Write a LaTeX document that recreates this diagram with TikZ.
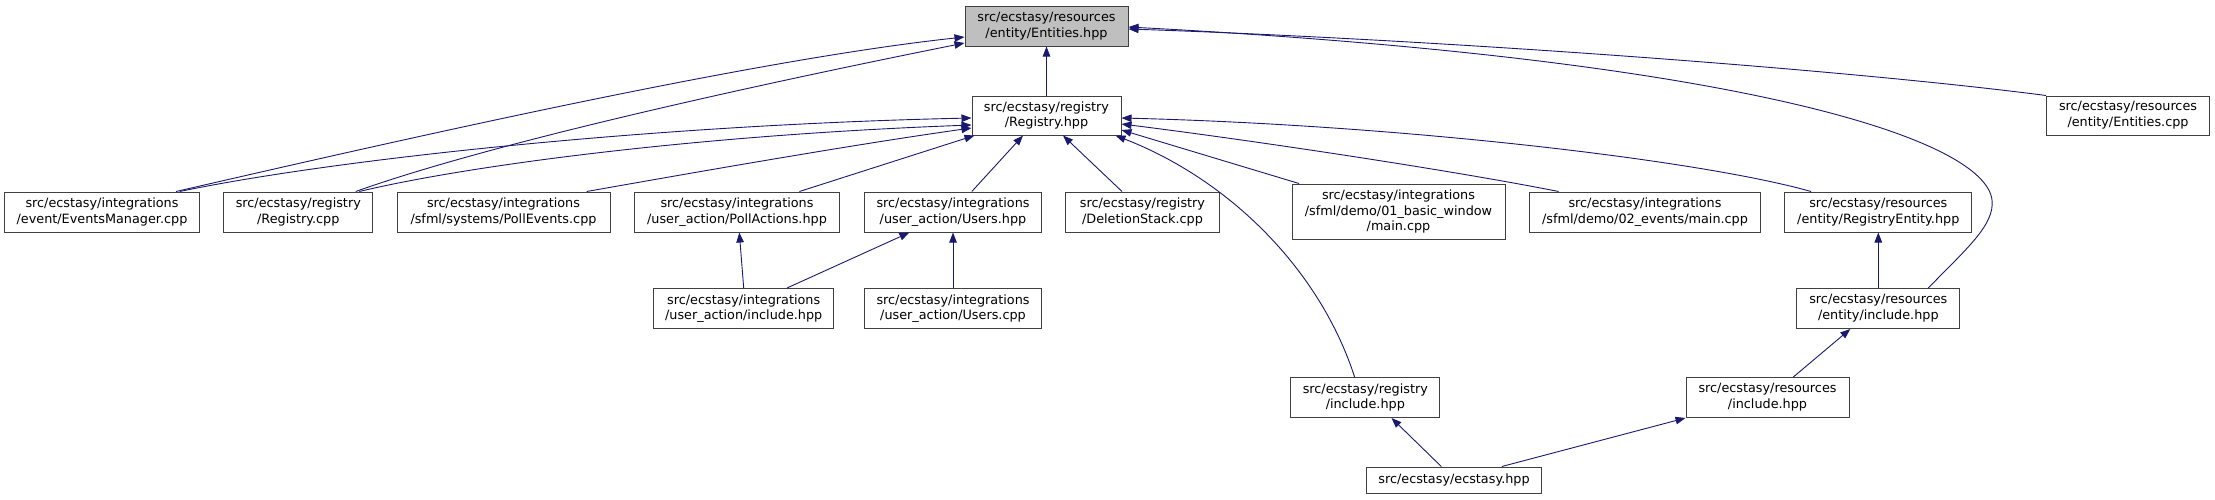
\documentclass[tikz,border=0pt]{standalone}
\usepackage{fontspec}
\setmainfont{DejaVu Sans}
\usetikzlibrary{arrows.meta}
\definecolor{edgeblue}{HTML}{191970}
\definecolor{boxgray}{HTML}{404040}
\definecolor{fillgray}{HTML}{BFBFBF}
\begin{document}
\begin{tikzpicture}[x=1pt,y=-1pt,
  box/.style={draw=boxgray,line width=1pt,fill=white,rectangle,inner sep=0pt,align=center,
    font=\fontsize{12.8}{15.7}\selectfont},
  hl/.style={box,fill=fillgray},
  edge/.style={draw=edgeblue,line width=0.9pt,-{Triangle[length=10pt,width=7.5pt]}}]
\useasboundingbox (0,0) rectangle (2215,499);
% nodes
\node[hl,minimum width=163pt,minimum height=40pt] (ent) at (1046.5,26) {src/ecstasy/resources\\/entity/Entities.hpp};
\node[box,minimum width=149pt,minimum height=39pt] (reg) at (1046.5,115.5) {src/ecstasy/registry\\/Registry.hpp};
\node[box,minimum width=194.5pt,minimum height=40pt] (em) at (102,212) {src/ecstasy/integrations\\/event/EventsManager.cpp};
\node[box,minimum width=149pt,minimum height=40pt] (regcpp) at (298.3,212) {src/ecstasy/registry\\/Registry.cpp};
\node[box,minimum width=213pt,minimum height=40pt] (pollev) at (503.5,212) {src/ecstasy/integrations\\/sfml/systems/PollEvents.cpp};
\node[box,minimum width=205pt,minimum height=40pt] (pollact) at (737,212) {src/ecstasy/integrations\\/user\_action/PollActions.hpp};
\node[box,minimum width=177pt,minimum height=40pt] (usershpp) at (953,212) {src/ecstasy/integrations\\/user\_action/Users.hpp};
\node[box,minimum width=154pt,minimum height=40pt] (delst) at (1142.5,212) {src/ecstasy/registry\\/DeletionStack.cpp};
\node[box,minimum width=213pt,minimum height=55pt] (basic) at (1398.5,211.5) {src/ecstasy/integrations\\/sfml/demo/01\_basic\_window\\/main.cpp};
\node[box,minimum width=231pt,minimum height=40pt] (events) at (1645,212) {src/ecstasy/integrations\\/sfml/demo/02\_events/main.cpp};
\node[box,minimum width=187pt,minimum height=40pt] (regent) at (1878.3,212) {src/ecstasy/resources\\/entity/RegistryEntity.hpp};
\node[box,minimum width=163pt,minimum height=39pt] (entcpp) at (2128,115.5) {src/ecstasy/resources\\/entity/Entities.cpp};
\node[box,minimum width=180.5pt,minimum height=40pt] (uainc) at (743.7,308.5) {src/ecstasy/integrations\\/user\_action/include.hpp};
\node[box,minimum width=177pt,minimum height=40pt] (userscpp) at (953,308.5) {src/ecstasy/integrations\\/user\_action/Users.cpp};
\node[box,minimum width=163pt,minimum height=40pt] (entinc) at (1878.3,308.5) {src/ecstasy/resources\\/entity/include.hpp};
\node[box,minimum width=149pt,minimum height=40pt] (reginc) at (1365.3,397.5) {src/ecstasy/registry\\/include.hpp};
\node[box,minimum width=163pt,minimum height=40pt] (resinc) at (1767.5,397.5) {src/ecstasy/resources\\/include.hpp};
\node[box,minimum width=175pt,minimum height=26pt] (ecs) at (1454,480) {src/ecstasy/ecstasy.hpp};
% edges to Entities.hpp
\draw[edge] (reg.north) -- (ent.south);
\draw[edge] ([xshift=74pt]em.north) .. controls (400,140) and (750,60) .. ([yshift=-11pt]ent.west);
\draw[edge] ([xshift=57.4pt]regcpp.north) .. controls (500,140) and (780,80) .. ([yshift=-17pt]ent.west);
\draw[edge] (entcpp.north west) .. controls (1850,70) and (1450,40) .. ([yshift=-3pt]ent.east);
\draw[edge] ([xshift=50pt]entinc.north) .. controls (1965,250) and (1995,225) .. (1992,200)
  .. controls (1985,140) and (1750,60) .. ([yshift=-1pt]ent.east);
% edges to Registry.hpp
\draw[edge] ([xshift=77.7pt]em.north) .. controls (330,160) and (650,125) .. ([yshift=-2.5pt]reg.west);
\draw[edge] ([xshift=61pt]regcpp.north) .. controls (470,165) and (700,135) .. ([yshift=-9.5pt]reg.west);
\draw[edge] ([xshift=83.2pt]pollev.north) .. controls (680,175) and (850,145) .. ([yshift=-12.5pt]reg.west);
\draw[edge] ([xshift=62.4pt]pollact.north) -- ([xshift=3pt]reg.south west);
\draw[edge] ([xshift=18.8pt]usershpp.north) -- ([xshift=-23.5pt]reg.south);
\draw[edge] ([xshift=-20.5pt]delst.north) -- ([xshift=16.5pt]reg.south);
\draw[edge] ([xshift=-99.5pt]basic.north) -- ([yshift=-14.5pt]reg.east);
\draw[edge] ([xshift=-86.4pt]events.north) .. controls (1450,170) and (1250,140) .. ([yshift=-8.5pt]reg.east);
\draw[edge] ([xshift=-67.3pt]regent.north) .. controls (1700,160) and (1400,125) .. ([yshift=-2.5pt]reg.east);
\draw[edge] ([xshift=-10.7pt]reginc.north) .. controls (1320,270) and (1230,180) .. ([xshift=-6pt]reg.south east);
% lower edges
\draw[edge] (uainc.north) -- ([xshift=2.3pt]pollact.south);
\draw[edge] ([xshift=43.3pt]uainc.north) -- ([xshift=-43.6pt]usershpp.south);
\draw[edge] (userscpp.north) -- (usershpp.south);
\draw[edge] (entinc.north) -- (regent.south);
\draw[edge] ([xshift=-12.7pt]ecs.north) -- ([xshift=26.2pt]reginc.south);
\draw[edge] ([xshift=47.8pt]ecs.north) -- (resinc.south west);
\draw[edge] ([xshift=25.8pt]resinc.north) -- ([xshift=-28pt]entinc.south);
\end{tikzpicture}
\end{document}
